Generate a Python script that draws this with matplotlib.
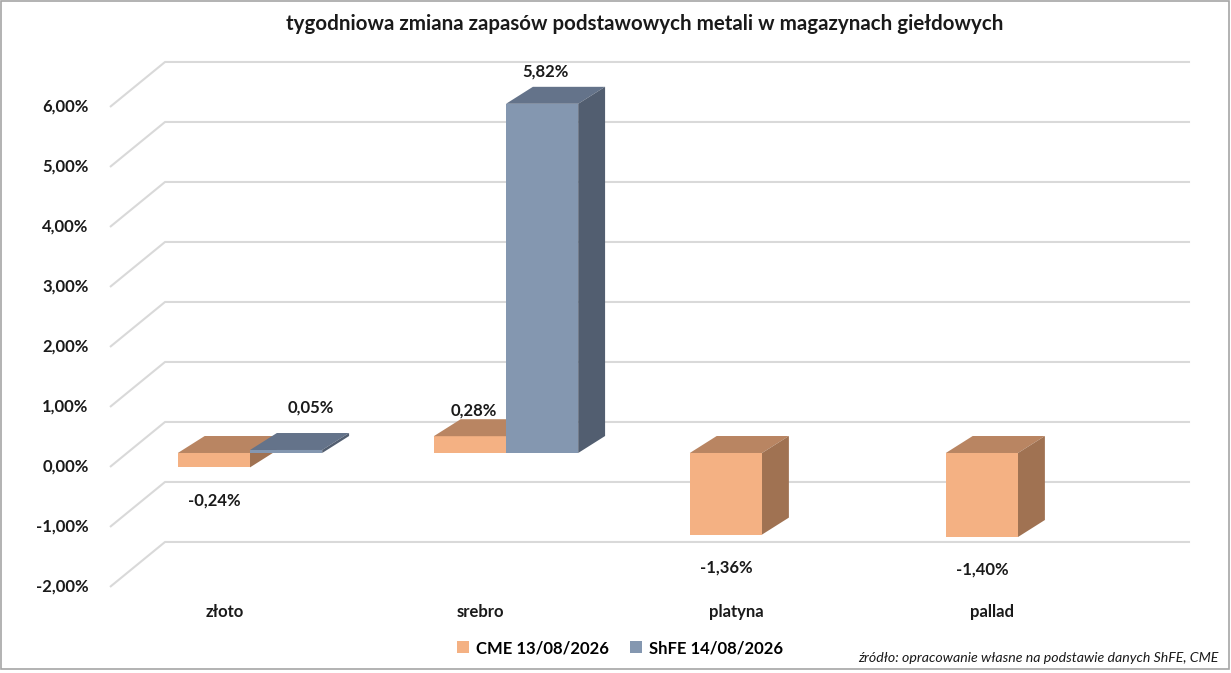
import numpy as np
import matplotlib
matplotlib.use('Agg')
import matplotlib.pyplot as plt
from matplotlib.patches import Polygon, Rectangle, Patch

plt.rcParams['font.family'] = ['Lato', 'DejaVu Sans']

# dane
metals = ['złoto', 'srebro', 'platyna', 'pallad']
cme = [-0.24, 0.28, -1.36, -1.40]
shfe = [0.05, 5.82, None, None]
series_names = ['CME 13/08/2026', 'ShFE 14/08/2026']
ticks = [-2, -1, 0, 1, 2, 3, 4, 5, 6]

# kolory: przód, góra, bok
cme_col = ('#F4B183', '#B98562', '#A07252')
shfe_col = ('#8497B0', '#64738A', '#525E70')

fig = plt.figure(figsize=(12.31, 6.73), dpi=100)
ax = fig.add_axes([0, 0, 1, 1])
ax.set_xlim(-0.9766, 3.832)
ax.set_ylim(-3.667, 7.55)
ax.axis('off')

# siatka 3D (ściana tylna + podłoga z perspektywą)
back_dy = 0.517
front_dy = -0.233
x_front, x_back, x_end = -0.547, -0.332, 3.672
for t in ticks:
    ax.plot([x_front, x_back, x_end], [t + front_dy, t + back_dy, t + back_dy],
            color='#D9D9D9', lw=1.5, zorder=1, solid_capstyle='butt')
    ax.text(-0.63, t + front_dy, f'{t:.2f}'.replace('.', ',') + '%',
            ha='right', va='center', fontsize=12, fontweight='bold', color='#1a1a1a')

bw = 0.282
dx, dy = 0.105, 0.283


def bar3d(xl, v, cols, z):
    lo, hi = min(0, v), max(0, v)
    xr = xl + bw
    ax.add_patch(Rectangle((xl, lo), bw, hi - lo, fc=cols[0], ec='none', zorder=z))
    ax.add_patch(Polygon([(xl, hi), (xr, hi), (xr + dx, hi + dy), (xl + dx, hi + dy)],
                         fc=cols[1], ec='none', zorder=z))
    ax.add_patch(Polygon([(xr, lo), (xr + dx, lo + dy), (xr + dx, hi + dy), (xr, hi)],
                         fc=cols[2], ec='none', zorder=z))


def label(xc, v, up=0.53):
    txt = f'{v:.2f}'.replace('.', ',') + '%'
    if v >= 0:
        ax.text(xc + 0.015, v + up, txt, ha='center', va='center',
                fontsize=12, fontweight='bold', color='#1a1a1a', zorder=10)
    else:
        ax.text(xc, v - 0.55, txt, ha='center', va='center',
                fontsize=12, fontweight='bold', color='#1a1a1a', zorder=10)


for i, m in enumerate(metals):
    z = 3 + i * 3
    bar3d(i - bw, cme[i], cme_col, z)
    label(i - bw / 2, cme[i], up=0.42)
    if shfe[i] is not None:
        small = abs(shfe[i]) < 0.2
        bar3d(i, shfe[i], shfe_col, z + 1)
        label(i + bw / 2 + (0.08 if small else 0), shfe[i], up=0.7 if small else 0.53)
    ax.text(i - 0.1, -2.65, m, ha='center', va='center',
            fontsize=12, fontweight='bold', color='#1a1a1a')

fig.text(0.524, 1 - 24 / 673,
         'tygodniowa zmiana zapasów podstawowych metali w magazynach giełdowych',
         ha='center', va='center', fontsize=14.8, fontweight='bold', color='#1a1a1a')

handles = [Patch(fc=cme_col[0], ec='none'), Patch(fc=shfe_col[0], ec='none')]
fig.legend(handles, series_names, loc='center', bbox_to_anchor=(620 / 1231, 1 - 648 / 673),
           ncol=2, frameon=False, handlelength=0.7, handleheight=0.7, handletextpad=0.4,
           columnspacing=1.3, prop={'size': 12, 'weight': 'bold'})

fig.text(1218 / 1231, 1 - 658 / 673,
         'źródło: opracowanie własne na podstawie danych ShFE, CME',
         ha='right', va='center', fontsize=10.2, style='italic', color='#1a1a1a')

fig.patches.append(Rectangle((0.001, 0.006), 0.997, 0.993, transform=fig.transFigure,
                             fill=False, ec='#A6A6A6', lw=1.2))

fig.savefig('out.png', dpi=100)
